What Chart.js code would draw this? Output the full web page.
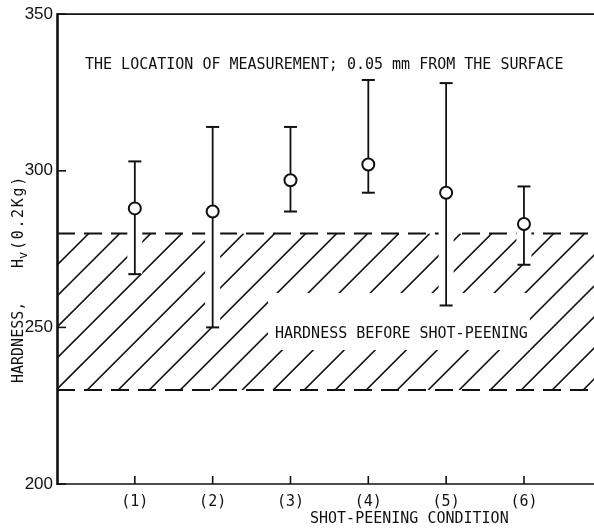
<!DOCTYPE html>
<html><head><meta charset="utf-8">
<script src="https://cdn.jsdelivr.net/npm/chart.js@4/dist/chart.umd.min.js"></script>
<style>html,body{margin:0;padding:0;background:#fff}canvas{display:block}</style>
</head><body>
<canvas id="c" width="594" height="532"></canvas>
<script>
// Hardness 0.05 mm below the surface after each shot-peening condition
const conditions   = ['(1)', '(2)', '(3)', '(4)', '(5)', '(6)'];
const hardnessMean = [288, 287, 297, 302, 293, 283];
const hardnessMax  = [303, 314, 314, 329, 328, 295];
const hardnessMin  = [267, 250, 287, 293, 257, 270];
const baseHardness = [230, 280];          // range before shot-peening
const yTicks       = [200, 250, 300, 350];

const noteText  = 'THE LOCATION OF MEASUREMENT; 0.05 mm FROM THE SURFACE';
const bandText  = 'HARDNESS BEFORE SHOT-PEENING';
const xTitle    = 'SHOT-PEENING CONDITION';

const INK  = '#111';
const MONO = '"DejaVu Sans Mono", monospace';

const points = conditions.map((c, i) => ({ x: i + 1, y: hardnessMean[i] }));

function line(ctx, x1, y1, x2, y2) {
  ctx.beginPath(); ctx.moveTo(x1, y1); ctx.lineTo(x2, y2); ctx.stroke();
}

const figurePlugin = {
  id: 'figure',
  beforeDatasetsDraw(chart) {
    const { ctx, chartArea: a, scales: { x, y } } = chart;
    const yHi = y.getPixelForValue(baseHardness[1]);
    const yLo = y.getPixelForValue(baseHardness[0]);
    ctx.save();

    // diagonal hatching of the pre-peening band
    ctx.save();
    ctx.beginPath(); ctx.rect(a.left, yHi, a.right - a.left, yLo - yHi); ctx.clip();
    ctx.strokeStyle = INK; ctx.lineWidth = 1.6;
    const step = 31, phase = 3, h = yLo - yHi;
    ctx.beginPath();
    for (let s = phase; s < (a.right - a.left) + (yLo - a.top) + step; s += step) {
      const x0 = a.left + s - (yLo - a.top);
      ctx.moveTo(x0, yLo);
      ctx.lineTo(x0 + h, yHi);
    }
    ctx.stroke();
    ctx.restore();

    // dashed limits of the band
    ctx.strokeStyle = INK; ctx.lineWidth = 2;
    ctx.setLineDash([18, 9]);
    line(ctx, a.left, yHi, a.right, yHi);
    line(ctx, a.left, yLo, a.right, yLo);
    ctx.setLineDash([]);

    // band caption on a white ground
    ctx.font = '15px ' + MONO;
    ctx.textBaseline = 'middle'; ctx.textAlign = 'left';
    const bx = 275, by = 334, bw = ctx.measureText(bandText).width;
    ctx.fillStyle = '#fff';
    ctx.fillRect(bx - 7, by - 41, bw + 9, 57);
    ctx.fillStyle = INK;
    ctx.fillText(bandText, bx, by);

    // scatter bars: white clearance, then the bar and caps
    hardnessMean.forEach((m, i) => {
      const px = x.getPixelForValue(i + 1);
      const pt = y.getPixelForValue(hardnessMax[i]);
      const pb = y.getPixelForValue(hardnessMin[i]);
      ctx.strokeStyle = '#fff'; ctx.lineWidth = 15;
      line(ctx, px, pt, px, pb);
      ctx.strokeStyle = INK; ctx.lineWidth = 1.8;
      line(ctx, px, pt, px, pb);
      ctx.lineWidth = 2;
      line(ctx, px - 6.5, pt, px + 6.5, pt);
      line(ctx, px - 6.5, pb, px + 6.5, pb);
    });

    // frame: heavy left axis, top rule, bottom axis, inward ticks
    ctx.strokeStyle = INK;
    ctx.lineWidth = 2.6; line(ctx, a.left + 0.5, a.top - 1, a.left + 0.5, a.bottom + 1);
    ctx.lineWidth = 1.8; line(ctx, a.left, a.top, a.right, a.top);
    ctx.lineWidth = 1.4; line(ctx, a.left, a.bottom, a.right, a.bottom);
    ctx.lineWidth = 1.6;
    yTicks.forEach(v => { const py = y.getPixelForValue(v); line(ctx, a.left, py, a.left + 9, py); });
    conditions.forEach((c, i) => { const px = x.getPixelForValue(i + 1); line(ctx, px, a.bottom, px, a.bottom - 8); });

    // note and axis titles
    ctx.fillStyle = INK;
    ctx.font = '15px ' + MONO;
    ctx.textBaseline = 'middle'; ctx.textAlign = 'left';
    ctx.fillText(noteText, 85, 65);
    ctx.fillText(xTitle, 310, 519);

    // rotated y title: HARDNESS,  Hv(0.2Kg)
    ctx.save();
    ctx.translate(23, 383);
    ctx.rotate(-Math.PI / 2);
    ctx.textBaseline = 'alphabetic';
    ctx.font = '15px ' + MONO;
    ctx.fillText('HARDNESS,', 0, 0);
    ctx.fillText('H', 115, 0);
    ctx.font = '12px ' + MONO;
    ctx.fillText('v', 124, 4);
    ctx.font = '15px ' + MONO;
    const tail = '(0.2Kg)';
    for (let k = 0; k < tail.length; k++) ctx.fillText(tail[k], 133 + k * 10.7, 0);
    ctx.restore();

    ctx.restore();
  }
};

new Chart(document.getElementById('c'), {
  type: 'scatter',
  data: {
    datasets: [{
      data: points,
      pointRadius: 6, pointHoverRadius: 6,
      pointBorderWidth: 2,
      pointBackgroundColor: '#fff',
      pointBorderColor: INK,
      showLine: false
    }]
  },
  options: {
    responsive: false,
    animation: false,
    events: [],
    layout: { autoPadding: false, padding: { top: 13, right: 0, bottom: 0, left: 0 } },
    plugins: { legend: { display: false }, tooltip: { enabled: false } },
    scales: {
      x: {
        type: 'linear', min: 0, max: 6.9,
        grid: { display: false, drawTicks: false },
        border: { display: false },
        afterBuildTicks: s => { s.ticks = conditions.map((c, i) => ({ value: i + 1 })); },
        ticks: {
          autoSkip: false, maxRotation: 0, padding: 9, color: INK,
          font: { family: MONO, size: 15 },
          callback: v => conditions[v - 1] ?? ''
        },
        afterFit: s => { s.height = 48; }
      },
      y: {
        min: 200, max: 350,
        grid: { display: false, drawTicks: false },
        border: { display: false },
        afterBuildTicks: s => { s.ticks = yTicks.map(v => ({ value: v })); },
        ticks: {
          padding: 4, color: INK,
          font: { family: '"Liberation Sans", Arial, sans-serif', size: 17 }
        },
        afterFit: s => { s.width = 57; }
      }
    }
  },
  plugins: [figurePlugin]
});
</script>
</body></html>
